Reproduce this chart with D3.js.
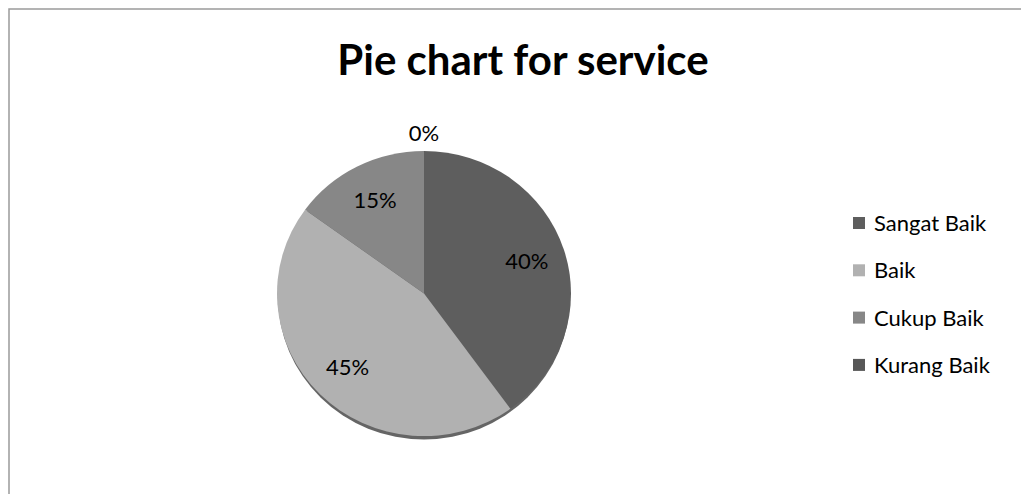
<!DOCTYPE html>
<html>
<head>
<meta charset="utf-8">
<script src="https://cdn.jsdelivr.net/npm/d3@7"></script>
<style>
  body { margin: 0; background: #fff; }
  text { font-family: Lato, "Open Sans", sans-serif; fill: #000; }
</style>
</head>
<body>
<div id="chart"></div>
<script>
// data
const categories = ["Sangat Baik", "Baik", "Cukup Baik", "Kurang Baik"];
const values = [40, 45, 15, 0];
const colors = ["#5e5e5e", "#b1b1b1", "#878787", "#575757"];

const W = 1021, H = 494;
const cx = 424, cy = 293.5, R = 147, squash = 0.97;

let svg = d3.select("#chart").append("svg").attr("width", W).attr("height", H);

// outer frame (only top/left visible)
svg.append("rect")
    .attr("x", 9).attr("y", 9)
    .attr("width", W + 20).attr("height", H + 20)
    .attr("fill", "none").attr("stroke", "#9a9a9a").attr("stroke-width", 1.5);

svg.append("text")
    .text("Pie chart for service")
    .attr("x", 523).attr("y", 75)
    .attr("text-anchor", "middle")
    .style("font-size", "42px").style("font-weight", "bold");

let pie = d3.pie().sort(null).value(d => d);
let arcs = pie(values);
let arc = d3.arc().innerRadius(0).outerRadius(R);
let labelArc = d3.arc().innerRadius(108).outerRadius(108);
let outerArc = d3.arc().innerRadius(R + 18).outerRadius(R + 18);

let g = svg.append("g").attr("transform", `translate(${cx},${cy}) scale(1,${squash})`);

// shadow rim underneath
g.append("ellipse")
    .attr("cx", 0).attr("cy", 3.5)
    .attr("rx", R - 1).attr("ry", R)
    .attr("fill", "#4a4a4a").attr("opacity", 0.85);

g.selectAll("path.slice")
    .data(arcs)
    .enter().append("path")
    .attr("class", "slice")
    .attr("d", arc)
    .attr("fill", (d, i) => colors[i]);

let lg = svg.append("g").attr("transform", `translate(${cx},${cy})`);
lg.selectAll("text")
    .data(arcs)
    .enter().append("text")
    .attr("transform", d => {
        let c = d.value === 0 ? outerArc.centroid(d) : labelArc.centroid(d);
        return `translate(${c[0]},${c[1] * squash})`;
    })
    .attr("text-anchor", "middle")
    .attr("dy", "0.35em")
    .style("font-size", "22px")
    .text(d => Math.round(d.value / d3.sum(values) * 100) + "%");

// legend
let leg = svg.append("g").attr("transform", "translate(853,217)");
let rows = leg.selectAll("g")
    .data(categories)
    .enter().append("g")
    .attr("transform", (d, i) => `translate(0,${i * 47.3})`);
rows.append("rect")
    .attr("width", 12).attr("height", 12)
    .attr("fill", (d, i) => colors[i]);
rows.append("text")
    .attr("x", 21).attr("y", 14)
    .style("font-size", "22px")
    .text(d => d);
</script>
</body>
</html>
